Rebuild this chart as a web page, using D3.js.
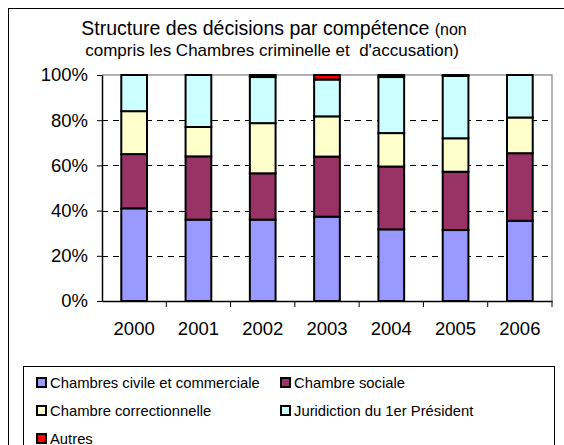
<!DOCTYPE html>
<html><head><meta charset="utf-8">
<script src="https://cdn.jsdelivr.net/npm/d3@7"></script>
<style>body{margin:0;background:#fff}svg{display:block;font-family:Arial,"Liberation Sans",sans-serif}</style>
</head><body><svg id="c" width="564" height="445"></svg>
<script>
const years = ["2000","2001","2002","2003","2004","2005","2006"];
const civile = [41, 36, 36, 37.3, 31.7, 31.4, 35.5];
const sociale = [24, 28, 20.5, 26.6, 27.8, 25.8, 29.9];
const correctionnelle = [19, 13, 22.2, 17.8, 14.8, 14.8, 15.8];
const juridiction = [16, 23, 20.4, 16.3, 24.8, 27.6, 18.8];
const autres = [0, 0, 0.9, 2, 0.9, 0.4, 0];
const seriesNames = ["Chambres civile et commerciale","Chambre sociale","Chambre correctionnelle","Juridiction du 1er Président","Autres"];
const colors = ["#9999ff","#993366","#ffffcc","#ccffff","#ff0000"];
const yTicks = [0,0.2,0.4,0.6,0.8,1];

const svg = d3.select("#c");
const data = years.map((y,i)=>({year:y, s0:civile[i], s1:sociale[i], s2:correctionnelle[i], s3:juridiction[i], s4:autres[i]}));
const keys = ["s0","s1","s2","s3","s4"];
const stack = d3.stack().keys(keys).offset(d3.stackOffsetExpand)(data);

// outer frame
svg.append("rect").attr("x",8.5).attr("y",8.5).attr("width",600).attr("height",500).attr("fill","#fff").attr("stroke","#000").attr("stroke-width",1);

const L=102, R=552, T=75, B=301;
const x = d3.scaleBand().domain(years).range([L,R]).paddingInner(0.6).paddingOuter(0.3);
const xb = d3.scaleBand().domain(years).range([L,R]);
const y = d3.scaleLinear().domain([0,1]).range([B,T]);

// plot border (gray) top & right
svg.append("path").attr("d",`M${L},${T}H${R}V${B}`).attr("fill","none").attr("stroke","#999").attr("stroke-width",1.5);

// gridlines
svg.append("g").selectAll("line").data(yTicks.filter(v=>v>0&&v<1)).join("line")
 .attr("x1",L).attr("x2",R).attr("y1",d=>Math.round(y(d))+0.5).attr("y2",d=>Math.round(y(d))+0.5)
 .attr("stroke","#000").attr("stroke-dasharray","6,5").attr("stroke-width",1);

// bars
svg.append("g").selectAll("g").data(stack).join("g").attr("fill",(d,i)=>colors[i])
 .selectAll("rect").data(d=>d.map(v=>({v,year:v.data.year}))).join("rect")
 .attr("x",d=>x(d.year)).attr("width",x.bandwidth())
 .attr("y",d=>y(d.v[1])).attr("height",d=>Math.max(0,y(d.v[0])-y(d.v[1])))
 .attr("stroke","#000").attr("stroke-width",2);

// y axis
const ya = svg.append("g").attr("transform",`translate(${L},0)`)
 .call(d3.axisLeft(y).tickValues(yTicks).tickFormat(d3.format(".0%")).tickSize(5).tickSizeOuter(0));
ya.select(".domain").attr("stroke","#000").attr("stroke-width",1.5);
ya.selectAll(".tick line").attr("stroke","#000").attr("x2",-5);
ya.selectAll("text").attr("font-size",18.5).attr("fill","#000").attr("x",-14).attr("font-family","Arial,'Liberation Sans',sans-serif");

// x axis
const xa = svg.append("g").attr("transform",`translate(0,${B})`)
 .call(d3.axisBottom(xb).tickSize(0).tickSizeOuter(0));
xa.select(".domain").attr("stroke","#000").attr("stroke-width",1.5);
xa.selectAll("text").attr("font-size",18.5).attr("fill","#000").attr("dy","0").attr("y",34).attr("font-family","Arial,'Liberation Sans',sans-serif");
svg.append("g").selectAll("line").data(years.slice(1).concat(["end"])).join("line")
 .attr("x1",(d,i)=>L+xb.step()*(i+1)).attr("x2",(d,i)=>L+xb.step()*(i+1))
 .attr("y1",B).attr("y2",B+6).attr("stroke","#000");

// title
const t = svg.append("text").attr("x",274).attr("y",35).attr("text-anchor","middle").attr("fill","#000");
t.append("tspan").attr("font-size",19.5).text("Structure des décisions par compétence ");
t.append("tspan").attr("font-size",16).text("(non");
svg.append("text").attr("x",272).attr("y",56).attr("text-anchor","middle").attr("font-size",17).attr("fill","#000")
 .text("compris les Chambres criminelle et \u00a0d'accusation)");

// legend
svg.append("rect").attr("x",23.5).attr("y",366.5).attr("width",531).attr("height",100).attr("fill","#fff").attr("stroke","#000");
const pos = [[37,383],[281,383],[37,411],[281,411],[37,439]];
const lg = svg.append("g").selectAll("g").data(seriesNames).join("g").attr("transform",(d,i)=>`translate(${pos[i][0]},${pos[i][1]})`);
lg.append("rect").attr("x",0).attr("y",-5).attr("width",9).attr("height",9).attr("fill",(d,i)=>colors[i]).attr("stroke","#000").attr("stroke-width",2);
lg.append("text").attr("x",13).attr("y",5).attr("font-size",14.8).attr("fill","#000").text(d=>d);
</script></body></html>
